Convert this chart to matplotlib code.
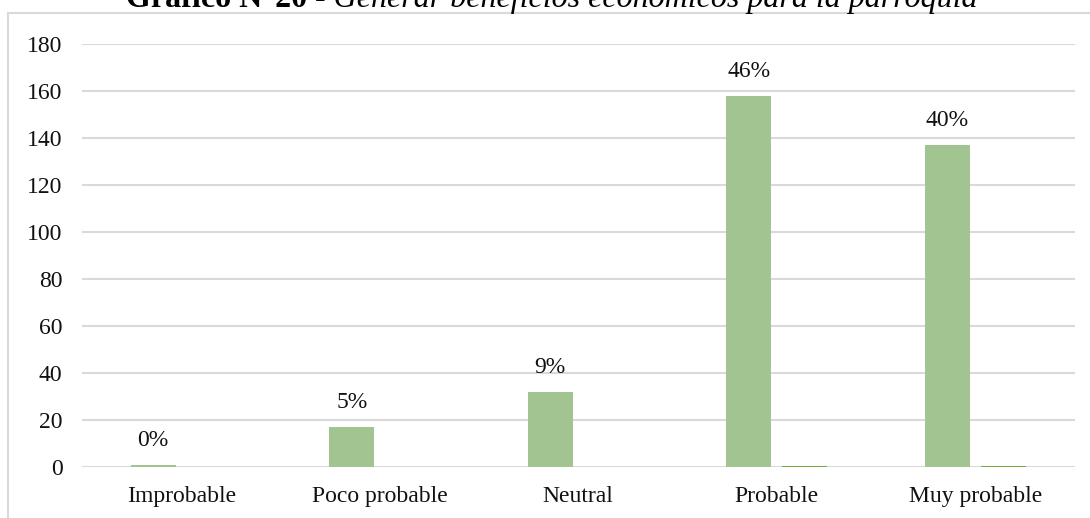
import matplotlib
matplotlib.use("Agg")
import matplotlib.pyplot as plt
from matplotlib.patches import Rectangle
import numpy as np

plt.rcParams['font.family'] = ['Liberation Serif', 'DejaVu Serif']

categorias = ["Improbable", "Poco probable", "Neutral", "Probable", "Muy probable"]
frecuencia = [1, 17, 32, 158, 137]
porcentaje = [0.003, 0.049, 0.093, 0.458, 0.397]

fig = plt.figure(figsize=(10.9, 5.18), dpi=100)
ax = fig.add_axes([0.0752, 0.0985, 0.9106, 0.8165])

# marco del grafico
fig.patches.append(Rectangle((8 / 1090, -0.1), 1.2, 1 - 13 / 518 + 0.1,
                             transform=fig.transFigure, fill=False,
                             edgecolor='#D9D9D9', linewidth=1.5))

x = np.arange(len(categorias))
w = 0.2267
off = 0.141
ax.bar(x - off, frecuencia, w, color='#A1C490', zorder=3)
ax.bar(x + off, porcentaje, w, color='#70AD47', zorder=3)

for i in range(len(categorias)):
    ax.annotate(f"{round(porcentaje[i] * 100)}%", (x[i] - off, frecuencia[i]),
                xytext=(0, 10), textcoords='offset points',
                ha='center', va='bottom', fontsize=17, color='#111111')

ax.set_xlim(-0.5, len(categorias) - 0.5)
ax.set_ylim(0, 180)
ax.set_yticks(range(0, 181, 20))
ax.set_xticks(x)
ax.set_xticklabels(categorias)
ax.tick_params(axis='both', length=0, labelsize=17, colors='#111111')
ax.tick_params(axis='y', pad=14)
ax.tick_params(axis='x', pad=13.5)
ax.grid(axis='y', color='#D9D9D9', linewidth=1.5, zorder=0)
for s in ax.spines.values():
    s.set_visible(False)

# titulo (cortado arriba como en la imagen)
fig.canvas.draw()
r = fig.canvas.get_renderer()
t1 = fig.text(0.5, 1 - 7 / 518, "Gráfico N°20", fontsize=23, fontweight='bold',
              va='baseline', ha='left')
t2 = fig.text(0.5, 1 - 7 / 518, " - Generar beneficios económicos para la parroquia",
              fontsize=23, style='italic', va='baseline', ha='left')
w1 = t1.get_window_extent(r).width
w2 = t2.get_window_extent(r).width
x0 = (552 - (w1 + w2) / 2) / 1090
t1.set_x(x0)
t2.set_x(x0 + w1 / 1090)

fig.savefig("out.png", dpi=100)
